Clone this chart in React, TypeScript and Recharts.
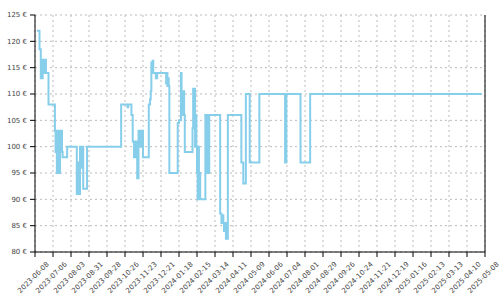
import React from 'react';
import { LineChart, Line, XAxis, YAxis, CartesianGrid, ReferenceLine } from 'recharts';

const dates = [
  '2023-06-11', '2023-06-15', '2023-06-17', '2023-06-18', '2023-06-19', '2023-06-20', '2023-06-21',
  '2023-06-22', '2023-06-23', '2023-06-24', '2023-06-25', '2023-06-29',
  '2023-07-09', '2023-07-10', '2023-07-11', '2023-07-12', '2023-07-13', '2023-07-14', '2023-07-15',
  '2023-07-16', '2023-07-17', '2023-07-18', '2023-07-19', '2023-07-20', '2023-07-21', '2023-07-28',
  '2023-08-12', '2023-08-14', '2023-08-15', '2023-08-17', '2023-08-19', '2023-08-20', '2023-08-22',
  '2023-08-28', '2023-10-20', '2023-10-30', '2023-10-31',
  '2023-11-05', '2023-11-07', '2023-11-09', '2023-11-11', '2023-11-13', '2023-11-14', '2023-11-16',
  '2023-11-18', '2023-11-19', '2023-11-20', '2023-11-21', '2023-11-23',
  '2023-12-02', '2023-12-04', '2023-12-05', '2023-12-06', '2023-12-08', '2023-12-09', '2023-12-13',
  '2023-12-15', '2023-12-29', '2023-12-30', '2023-12-31',
  '2024-01-01', '2024-01-02', '2024-01-03', '2024-01-16', '2024-01-18', '2024-01-21', '2024-01-22',
  '2024-01-23', '2024-01-24', '2024-01-25', '2024-01-26', '2024-01-27',
  '2024-02-08', '2024-02-09', '2024-02-10', '2024-02-11', '2024-02-12', '2024-02-13', '2024-02-14',
  '2024-02-15', '2024-02-16', '2024-02-17', '2024-02-18', '2024-02-19', '2024-02-20', '2024-02-28',
  '2024-02-29', '2024-03-01', '2024-03-02', '2024-03-03', '2024-03-04', '2024-03-05',
  '2024-03-22', '2024-03-24', '2024-03-26', '2024-03-27', '2024-03-28', '2024-03-30', '2024-03-31',
  '2024-04-03', '2024-04-24', '2024-04-27', '2024-05-01', '2024-05-07', '2024-05-22',
  '2024-07-01', '2024-07-03', '2024-07-25', '2024-08-09', '2025-05-03',
];

const prices = [
  122, 118.5, 113, 116.5, 113, 116.5, 114,
  116.5, 114, 116.5, 114, 108,
  103, 99, 103, 95, 103, 95, 103,
  95, 103, 99, 103, 99, 98, 100,
  91, 97, 91, 100, 96, 100, 92,
  100, 108, 107.5, 108,
  106, 101, 98, 101, 98, 94, 103,
  100, 103, 100, 103, 98,
  108, 109, 110.5, 116, 116.3, 114, 113,
  114, 112, 114, 111.5,
  113, 111.5, 95, 104.5, 105, 114, 106,
  110.5, 106, 110.5, 106, 99,
  103.5, 111, 104, 111, 100, 106, 100,
  95, 90, 100, 90, 95, 90, 106,
  95, 106, 95, 106, 95, 106,
  87.3, 85.5, 87, 85.5, 84, 85.5, 82.5,
  106, 97, 93, 110, 97, 110,
  97, 110, 97, 110, 110,
];

const tickDates = [
  '2023-06-08', '2023-07-06', '2023-08-03', '2023-08-31', '2023-09-28', '2023-10-26', '2023-11-23',
  '2023-12-21', '2024-01-18', '2024-02-15', '2024-03-14', '2024-04-11', '2024-05-09', '2024-06-06',
  '2024-07-04', '2024-08-01', '2024-08-29', '2024-09-26', '2024-10-24', '2024-11-21', '2024-12-19',
  '2025-01-16', '2025-02-13', '2025-03-13', '2025-04-10', '2025-05-08',
];

const yTicks = [80, 85, 90, 95, 100, 105, 110, 115, 120, 125];

const toT = (s: string) => Date.parse(s + 'T00:00:00Z');
const fmt = (t: number) => new Date(t).toISOString().slice(0, 10);

const data = dates.map((d, i) => ({ t: toT(d), price: prices[i] }));
const xTicks = tickDates.map(toT);
const X0 = xTicks[0];
const X1 = xTicks[xTicks.length - 1];

const FONT = '"DejaVu Sans", Verdana, sans-serif';

const XTick = (props: any) => {
  const { x, y, payload } = props;
  const cy = y + 20;
  return (
    <text
      x={x}
      y={cy}
      textAnchor="middle"
      fontSize={7}
      fill="#444"
      fontFamily={FONT}
      transform={`rotate(-45, ${x}, ${cy})`}
    >
      {fmt(payload.value)}
    </text>
  );
};

const YTick = (props: any) => {
  const { x, y, payload } = props;
  return (
    <text x={x} y={y} dy="0.355em" textAnchor="end" fontSize={7} fill="#444" fontFamily={FONT}>
      {`${payload.value} €`}
    </text>
  );
};

export default function App() {
  return (
    <div style={{ position: 'absolute', left: 0, top: 0, width: 500, height: 300, background: '#fff' }}>
      <LineChart width={500} height={300} data={data} margin={{ top: 15, right: 15, left: 0, bottom: 0 }}>
        <CartesianGrid stroke="#bbb" strokeDasharray="2 3" />
        <XAxis
          dataKey="t"
          type="number"
          scale="linear"
          domain={[X0, X1]}
          ticks={xTicks}
          interval={0}
          height={48}
          stroke="#000"
          tickSize={5}
          tick={<XTick />}
          allowDataOverflow
        />
        <YAxis
          domain={[80, 125]}
          ticks={yTicks}
          interval={0}
          width={35}
          stroke="#000"
          tickSize={5}
          tickMargin={3}
          tick={<YTick />}
          allowDataOverflow
        />
        <ReferenceLine x={X1} stroke="#000" ifOverflow="visible" />
        <Line
          type="stepAfter"
          dataKey="price"
          stroke="#87CEEB"
          strokeWidth={2}
          dot={false}
          isAnimationActive={false}
        />
      </LineChart>
    </div>
  );
}
